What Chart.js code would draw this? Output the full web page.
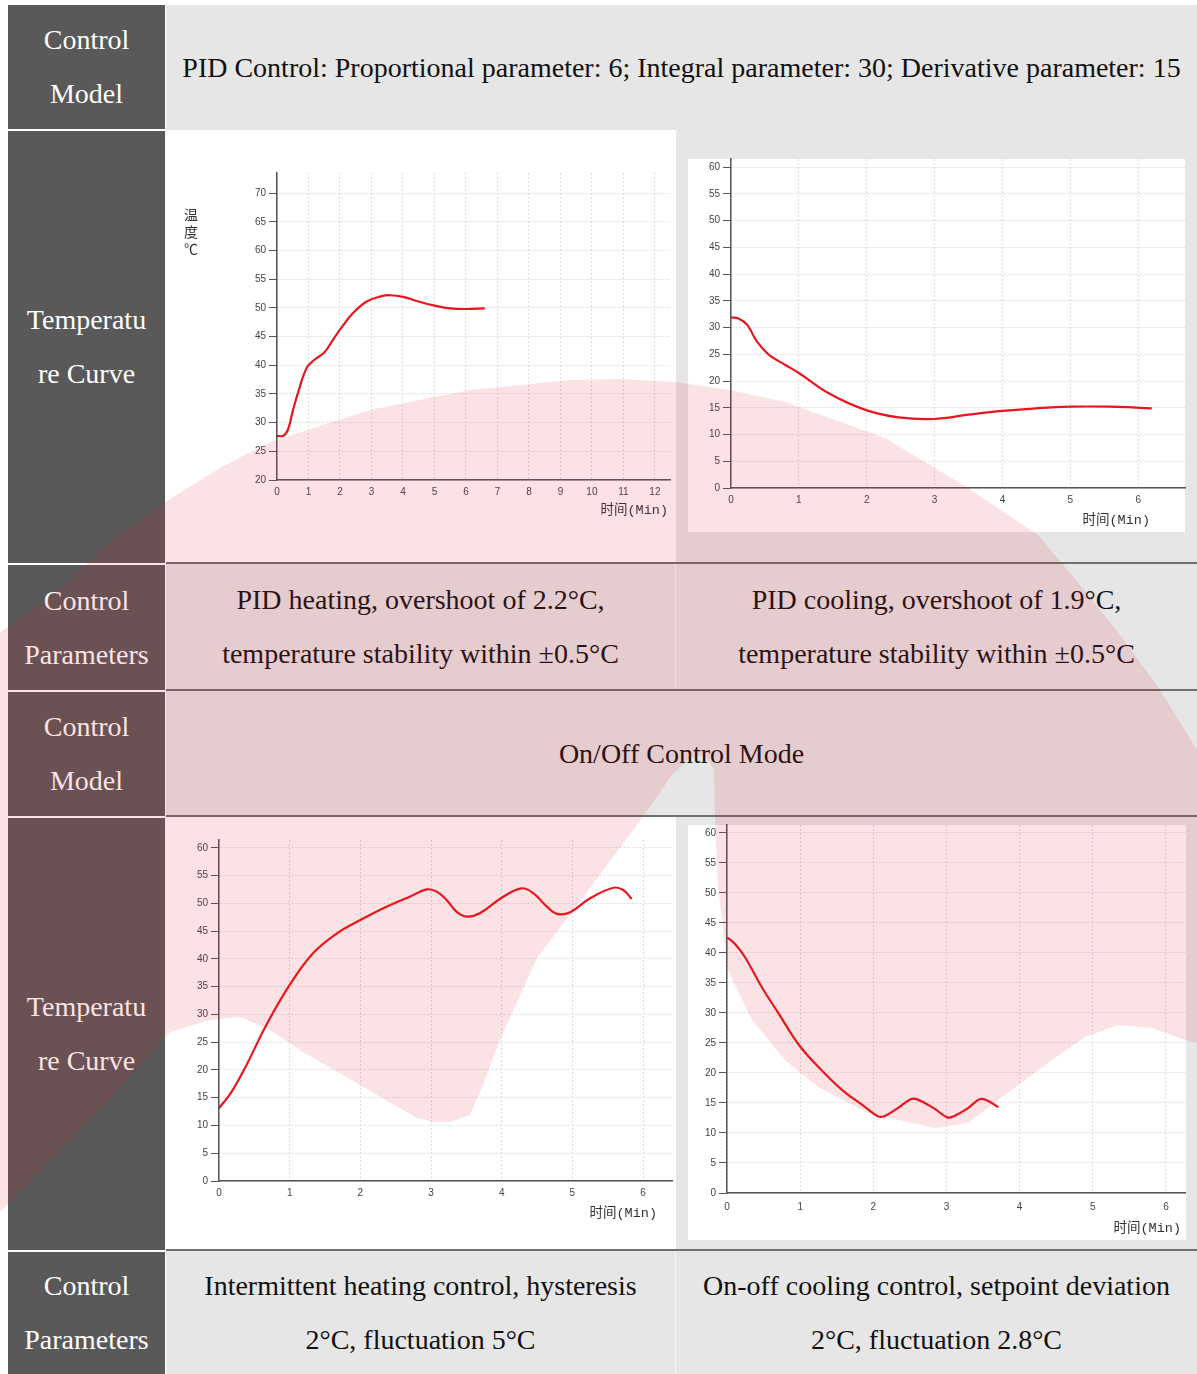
<!DOCTYPE html>
<html>
<head>
<meta charset="utf-8">
<script src="https://cdn.jsdelivr.net/npm/chart.js@4.4.1/dist/chart.umd.min.js"></script>
<style>
html,body{margin:0;padding:0;width:1197px;height:1374px;overflow:hidden;background:#fff;}
.lc{position:absolute;left:8px;width:157px;background:#595959;color:#fff;font:28px/54px "Liberation Serif","Times New Roman",serif;display:flex;align-items:center;justify-content:center;text-align:center;}
.gc{position:absolute;background:#e6e6e6;}
.tx{position:absolute;color:#111;font:28px/54px "Liberation Serif","Times New Roman",serif;display:flex;align-items:center;justify-content:center;text-align:center;}
.hl{position:absolute;left:166px;width:1031px;height:2px;background:#6f6f6f;}
.vl{position:absolute;left:675px;width:1px;background:#f4f4f4;}
.wb{position:absolute;background:#fff;}
.cv{position:absolute;}
.at{position:absolute;width:120px;text-align:right;font:13.5px/18px "Liberation Mono","Noto Sans CJK SC",monospace;color:#333;white-space:nowrap;}
.yt{position:absolute;width:18px;text-align:center;font:14px/17px "Noto Sans CJK SC",sans-serif;color:#333;}
#wm{position:absolute;left:0;top:0;z-index:20;pointer-events:none;}
</style>
</head>
<body>
<!-- left header column -->
<div class="lc" style="top:5px;height:124px;">Control<br>Model</div>
<div class="lc" style="top:131px;height:432px;">Temperatu<br>re Curve</div>
<div class="lc" style="top:565px;height:125px;">Control<br>Parameters</div>
<div class="lc" style="top:692px;height:124px;">Control<br>Model</div>
<div class="lc" style="top:818px;height:432px;">Temperatu<br>re Curve</div>
<div class="lc" style="top:1252px;height:122px;">Control<br>Parameters</div>

<!-- grey cells -->
<div class="gc" style="left:166px;top:5px;width:1031px;height:125px;"></div>
<div class="gc" style="left:676px;top:130px;width:521px;height:434px;"></div>
<div class="gc" style="left:166px;top:564px;width:1031px;height:253px;"></div>
<div class="gc" style="left:676px;top:817px;width:521px;height:434px;"></div>
<div class="gc" style="left:166px;top:1251px;width:1031px;height:123px;"></div>

<div class="vl" style="top:564px;height:127px;"></div>
<div class="vl" style="top:1251px;height:123px;"></div>
<div class="hl" style="top:562px;"></div>
<div class="hl" style="top:689px;"></div>
<div class="hl" style="top:815px;"></div>
<div class="hl" style="top:1249px;"></div>

<!-- text cells -->
<div class="tx" style="left:166px;top:5px;width:1031px;height:125px;">PID Control: Proportional parameter: 6; Integral parameter: 30; Derivative parameter: 15</div>
<div class="tx" style="left:166px;top:564px;width:509px;height:126px;">PID heating, overshoot of 2.2°C,<br>temperature stability within ±0.5°C</div>
<div class="tx" style="left:676px;top:564px;width:521px;height:126px;">PID cooling, overshoot of 1.9°C,<br>temperature stability within ±0.5°C</div>
<div class="tx" style="left:166px;top:691px;width:1031px;height:125px;">On/Off Control Mode</div>
<div class="tx" style="left:166px;top:1251px;width:509px;height:124px;">Intermittent heating control, hysteresis<br>2°C, fluctuation 5°C</div>
<div class="tx" style="left:676px;top:1251px;width:521px;height:124px;">On-off cooling control, setpoint deviation<br>2°C, fluctuation 2.8°C</div>

<!-- white chart boxes -->
<div class="wb" style="left:688px;top:159px;width:497px;height:373px;"></div>
<div class="wb" style="left:688px;top:825px;width:498px;height:415px;"></div>

<canvas id="c1" class="cv" width="509" height="433" style="left:166px;top:130px;"></canvas>
<canvas id="c2" class="cv" width="500" height="393" style="left:688px;top:139px;"></canvas>
<canvas id="c3" class="cv" width="509" height="433" style="left:166px;top:817px;"></canvas>
<canvas id="c4" class="cv" width="500" height="435" style="left:688px;top:805px;"></canvas>

<div class="yt" style="left:182px;top:206px;">温<br>度<br>℃</div>
<div class="at" style="left:548px;top:502px;">时间(Min)</div>
<div class="at" style="left:1030px;top:512px;">时间(Min)</div>
<div class="at" style="left:537px;top:1205px;">时间(Min)</div>
<div class="at" style="left:1061px;top:1220px;">时间(Min)</div>

<svg id="wm" width="1197" height="1374" viewBox="0 0 1197 1374">
<path fill="rgb(225,30,50)" fill-opacity="0.13" d="M0,632 L60,590 L112,540 L170,499 L220,468 L270,442 L370,410 L470,390 L570,380 L620,379 L675,382 L730,390 L785,402 L885,438 L968,488 L1038,535 L1080,585 L1120,635 L1160,690 L1197,750 L1197,1043 L1185,1040 L1152,1028 L1118,1025 L1085,1037 L1052,1060 L1002,1097 L968,1123 L935,1128 L868,1113 L818,1087 L785,1060 L752,1020 L728,970 L718,887 L715,820 L714,770 L705,755 L690,758 L672,775 L637,825 L587,892 L537,958 L500,1040 L483,1085 L470,1115 L450,1122 L433,1122 L417,1118 L360,1085 L303,1052 L270,1030 L240,1017 L210,1020 L170,1032 L100,1110 L0,1212 Z"/>
</svg>

<script>
// PID heating (top-left)
const pidHeatTime = [0, 0.2, 0.35, 0.5, 0.7, 0.95, 1.2, 1.5, 1.75, 2.0, 2.4, 2.85, 3.3, 3.6, 4.0, 4.5, 5.0, 5.5, 6.0, 6.6];
const pidHeatTemp = [27.7, 27.7, 28.8, 32.0, 35.8, 39.6, 41.0, 42.2, 44.2, 46.2, 49.0, 51.1, 52.0, 52.2, 51.9, 51.1, 50.4, 49.9, 49.8, 49.9];
// PID cooling (top-right)
const pidCoolTime = [0, 0.11, 0.24, 0.38, 0.56, 0.8, 1.0, 1.44, 1.98, 2.47, 2.99, 3.5, 4.0, 4.5, 5.0, 5.58, 6.2];
const pidCoolTemp = [31.9, 31.7, 30.5, 27.4, 24.9, 23.0, 21.5, 17.7, 14.6, 13.2, 12.9, 13.7, 14.4, 14.9, 15.2, 15.2, 14.9];
// On/Off heating (bottom-left)
const onoffHeatTime = [0, 0.18, 0.39, 0.67, 1.0, 1.33, 1.67, 2.0, 2.37, 2.7, 2.94, 3.08, 3.22, 3.36, 3.5, 3.69, 4.0, 4.28, 4.45, 4.64, 4.78, 4.97, 5.25, 5.58, 5.72, 5.84];
const onoffHeatTemp = [13.1, 16.1, 20.9, 28.1, 35.3, 41.0, 44.6, 47.0, 49.4, 51.2, 52.5, 52.1, 50.6, 48.5, 47.6, 48.2, 51.0, 52.7, 51.8, 49.4, 48.1, 48.4, 50.9, 52.8, 52.4, 50.8];
// On/Off cooling (bottom-right)
const onoffCoolTime = [0, 0.1, 0.24, 0.47, 0.7, 1.0, 1.33, 1.6, 1.88, 2.06, 2.15, 2.33, 2.51, 2.6, 2.83, 3.01, 3.1, 3.29, 3.45, 3.54, 3.71];
const onoffCoolTemp = [42.6, 41.6, 39.4, 34.4, 30.0, 24.4, 20.0, 16.9, 14.4, 12.8, 12.8, 14.1, 15.6, 15.6, 14.1, 12.6, 12.8, 14.1, 15.6, 15.5, 14.3];

// axis ranges
const axis1 = {xMin: 0, xMax: 12.48, yMin: 20, yMax: 73.5, xStep: 1, yStep: 5};
const axis2 = {xMin: 0, xMax: 6.69, yMin: 0, yMax: 61.5, xStep: 1, yStep: 5};
const axis3 = {xMin: 0, xMax: 6.41, yMin: 0, yMax: 61.4, xStep: 1, yStep: 5};
const axis4 = {xMin: 0, xMax: 6.26, yMin: 0, yMax: 61.3, xStep: 1, yStep: 5};

const tickFont = {family: '"Liberation Sans", Arial, sans-serif', size: 10};

function buildChart(id, xs, ys, ax, box) {
  const points = xs.map((x, i) => ({x: x, y: ys[i]}));
  return new Chart(document.getElementById(id), {
    type: 'line',
    data: {datasets: [{
      data: points,
      borderColor: '#e8161e',
      borderWidth: 2.2,
      pointRadius: 0,
      fill: false,
      tension: 0.4
    }]},
    options: {
      responsive: false,
      animation: false,
      events: [],
      plugins: {legend: {display: false}, tooltip: {enabled: false}},
      layout: {padding: {top: box.top, right: box.right, left: 0, bottom: 0}},
      scales: {
        x: {
          type: 'linear', bounds: 'data', min: ax.xMin, max: ax.xMax,
          afterFit: s => { s.height = box.xH; },
          ticks: {stepSize: ax.xStep, includeBounds: false, maxTicksLimit: 100, autoSkip: false, maxRotation: 0,
                  padding: box.xPad, color: '#444', font: tickFont},
          grid: {color: '#dcdcdc', lineWidth: 1, drawTicks: false},
          border: {color: '#555', width: 1.5, dash: [2, 2]}
        },
        y: {
          type: 'linear', bounds: 'data', min: ax.yMin, max: ax.yMax,
          afterFit: s => { s.width = box.yW; },
          ticks: {stepSize: ax.yStep, includeBounds: false, maxTicksLimit: 100, autoSkip: false,
                  padding: 3, color: '#444', font: tickFont},
          grid: {color: '#dcdcdc', lineWidth: 1, drawTicks: true, tickLength: 8, tickColor: '#555', tickWidth: 1, tickBorderDash: []},
          border: {color: '#555', width: 1.5, dash: [2, 2]}
        }
      }
    }
  });
}

buildChart('c1', pidHeatTime, pidHeatTemp, axis1, {top: 43, right: 5, yW: 111, xH: 83, xPad: 6});
buildChart('c2', pidCoolTime, pidCoolTemp, axis2, {top: 20, right: 3, yW: 43, xH: 44, xPad: 6});
buildChart('c3', onoffHeatTime, onoffHeatTemp, axis3, {top: 23, right: 3, yW: 53, xH: 69, xPad: 6});
buildChart('c4', onoffCoolTime, onoffCoolTemp, axis4, {top: 20, right: 3, yW: 39, xH: 47, xPad: 8});
</script>
</body>
</html>
